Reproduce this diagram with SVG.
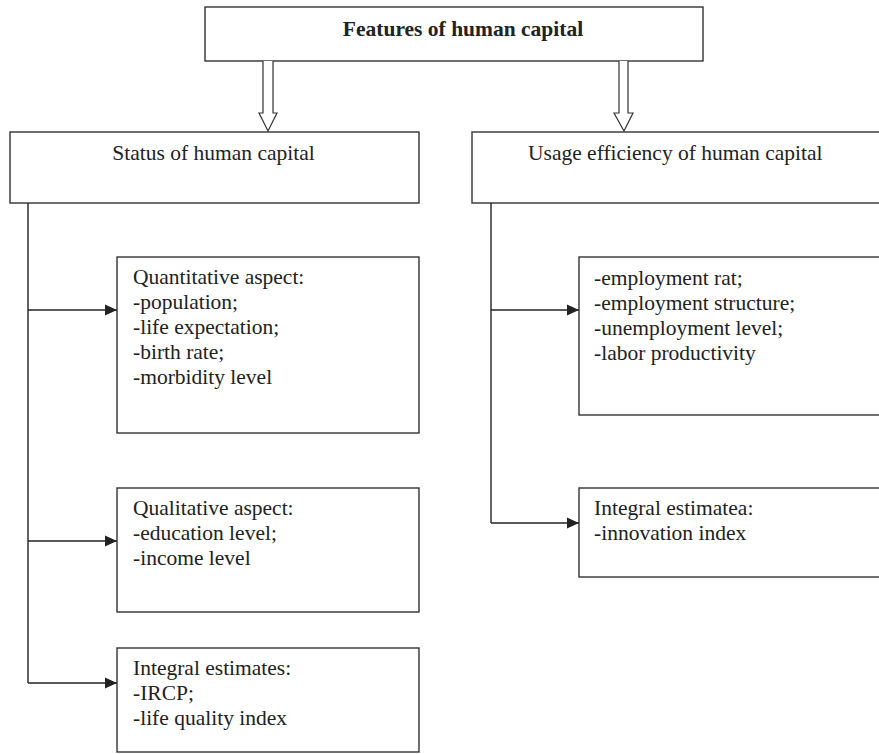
<svg xmlns="http://www.w3.org/2000/svg" width="879" height="754" viewBox="0 0 879 754">
  <style>
    .box { fill: #ffffff; stroke: #333333; stroke-width: 1.4; }
    .t { font-family: "Liberation Serif", "Times New Roman", serif; font-size: 21.5px; fill: #222222; }
    .title { font-weight: bold; }
    .link { fill: none; stroke: #222222; stroke-width: 1.4; }
    .hollow { fill: #ffffff; stroke: #333333; stroke-width: 1.2; }
  </style>
  <defs>
    <marker id="head" markerWidth="12" markerHeight="12" refX="12" refY="6" orient="auto" markerUnits="userSpaceOnUse">
      <path d="M0,0.5 L12,6 L0,11.5 Z" fill="#222222"/>
    </marker>
  </defs>
  <rect width="879" height="754" fill="#ffffff"/>

  <g id="features">
    <rect class="box" x="205" y="7" width="498" height="54"/>
    <text class="t title" x="463" y="36" text-anchor="middle">Features of human capital</text>
  </g>

  <g id="status">
    <rect class="box" x="10" y="132" width="409" height="71"/>
    <text class="t" x="213.5" y="160" text-anchor="middle">Status of human capital</text>
  </g>

  <g id="usage">
    <rect class="box" x="472" y="132" width="420" height="71"/>
    <text class="t" x="528" y="160">Usage efficiency of human capital</text>
  </g>

  <g id="quantitative">
    <rect class="box" x="117" y="257" width="302" height="176"/>
    <text class="t" x="133" y="284">Quantitative aspect:</text>
    <text class="t" x="133" y="309">-population;</text>
    <text class="t" x="133" y="334">-life expectation;</text>
    <text class="t" x="133" y="359">-birth rate;</text>
    <text class="t" x="133" y="384">-morbidity level</text>
  </g>

  <g id="qualitative">
    <rect class="box" x="117" y="488" width="302" height="124"/>
    <text class="t" x="133" y="515">Qualitative aspect:</text>
    <text class="t" x="133" y="540">-education level;</text>
    <text class="t" x="133" y="565">-income level</text>
  </g>

  <g id="integral-status">
    <rect class="box" x="117" y="648" width="302" height="104"/>
    <text class="t" x="133" y="675">Integral estimates:</text>
    <text class="t" x="133" y="700">-IRCP;</text>
    <text class="t" x="133" y="725">-life quality index</text>
  </g>

  <g id="employment">
    <rect class="box" x="579" y="257" width="313" height="158"/>
    <text class="t" x="594" y="285">-employment rat;</text>
    <text class="t" x="594" y="310">-employment structure;</text>
    <text class="t" x="594" y="335">-unemployment level;</text>
    <text class="t" x="594" y="360">-labor productivity</text>
  </g>

  <g id="integral-usage">
    <rect class="box" x="579" y="488" width="313" height="89"/>
    <text class="t" x="594" y="515">Integral estimatea:</text>
    <text class="t" x="594" y="540">-innovation index</text>
  </g>

  <g id="connectors">
    <!-- hollow block arrows from the title box -->
    <path class="hollow" d="M263,61 L263,113 L259,113 L268,131 L277,113 L273,113 L273,61"/>
    <path class="hollow" d="M619,61 L619,113 L614,113 L624,131 L633,113 L628,113 L628,61"/>
    <!-- left branch -->
    <path class="link" d="M28,203 L28,683"/>
    <path class="link" d="M28,310 L117,310" marker-end="url(#head)"/>
    <path class="link" d="M28,541 L117,541" marker-end="url(#head)"/>
    <path class="link" d="M28,683 L117,683" marker-end="url(#head)"/>
    <!-- right branch -->
    <path class="link" d="M491,203 L491,523"/>
    <path class="link" d="M491,310 L579,310" marker-end="url(#head)"/>
    <path class="link" d="M491,523 L579,523" marker-end="url(#head)"/>
  </g>
</svg>
